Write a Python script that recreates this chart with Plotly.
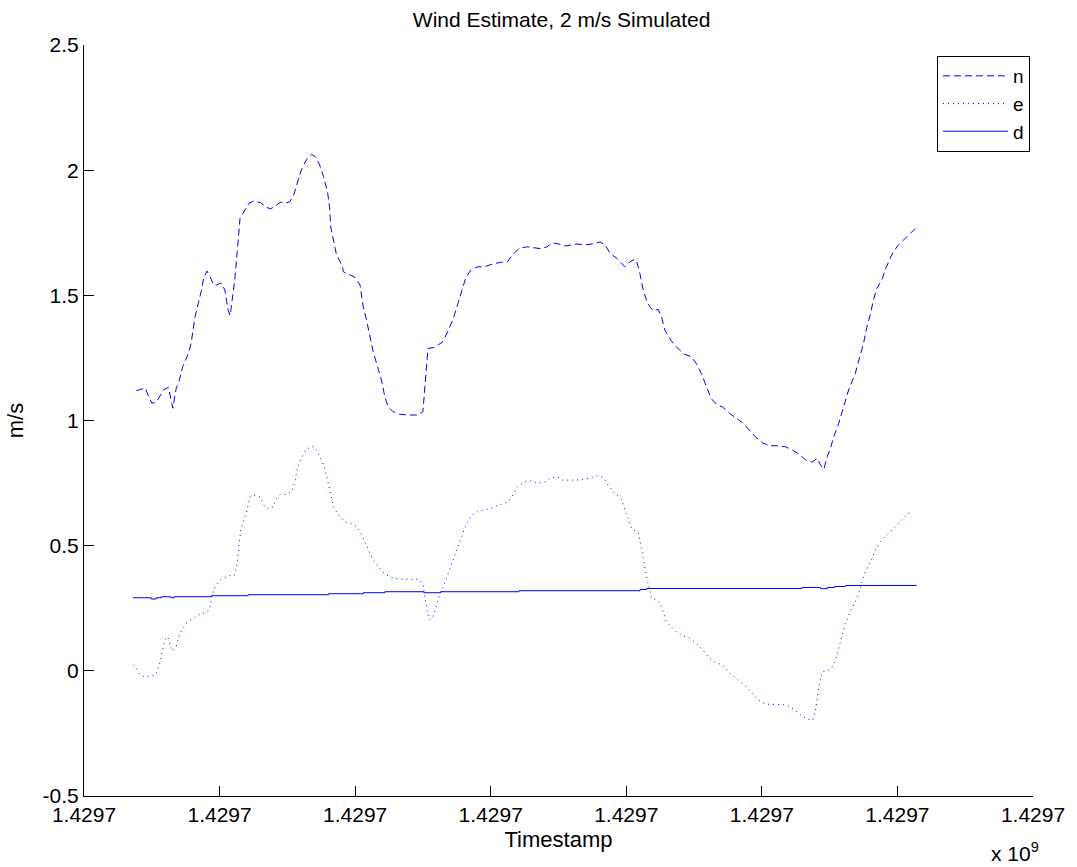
import plotly.graph_objects as go

# x positions are in tick-interval units (ticks at 0..7, all labelled 1.4297 x 10^9)
tick_vals = [0, 1, 2, 3, 4, 5, 6, 7]
tick_text = ["1.4297"] * 8
y_tick_vals = [-0.5, 0, 0.5, 1, 1.5, 2, 2.5]
y_tick_text = ["-0.5", "0", "0.5", "1", "1.5", "2", "2.5"]

n_x = [0.386, 0.452, 0.477, 0.501, 0.533, 0.570, 0.589, 0.623, 0.655, 0.680, 0.704, 0.728, 0.765, 0.790,
       0.801, 0.819, 0.843, 0.867, 0.882, 0.907, 0.931, 0.955, 0.980, 1.010, 1.039, 1.063, 1.078, 1.095,
       1.112, 1.131, 1.151, 1.180, 1.217, 1.254, 1.303, 1.339, 1.376, 1.413, 1.449, 1.486, 1.518, 1.547,
       1.571, 1.603, 1.640, 1.677, 1.706, 1.738, 1.767, 1.796, 1.811, 1.820, 1.840, 1.860, 1.884, 1.906,
       1.913, 1.950, 1.999, 2.036, 2.060, 2.084, 2.109, 2.133, 2.165, 2.194, 2.219, 2.243, 2.280, 2.329,
       2.390, 2.463, 2.500, 2.517, 2.537, 2.586, 2.647, 2.683, 2.720, 2.751, 2.781, 2.817, 2.854, 2.903,
       2.952, 3.013, 3.074, 3.123, 3.160, 3.209, 3.270, 3.331, 3.372, 3.416, 3.453, 3.502, 3.539, 3.587,
       3.636, 3.697, 3.746, 3.807, 3.844, 3.880, 3.930, 3.990, 4.027, 4.064, 4.076, 4.100, 4.125, 4.149,
       4.174, 4.199, 4.235, 4.260, 4.284, 4.320, 4.357, 4.394, 4.430, 4.479, 4.516, 4.553, 4.589, 4.626,
       4.663, 4.712, 4.760, 4.809, 4.858, 4.907, 4.956, 5.005, 5.053, 5.115, 5.176, 5.225, 5.273, 5.323,
       5.372, 5.408, 5.433, 5.457, 5.482, 5.506, 5.530, 5.567, 5.603, 5.640, 5.689, 5.726, 5.750, 5.775,
       5.799, 5.823, 5.848, 5.885, 5.909, 5.946, 5.970, 6.007, 6.056, 6.105, 6.134]
n_v = [1.119, 1.130, 1.095, 1.069, 1.073, 1.108, 1.124, 1.132, 1.049, 1.128, 1.162, 1.215, 1.261, 1.308,
       1.348, 1.415, 1.468, 1.521, 1.568, 1.597, 1.574, 1.541, 1.541, 1.550, 1.521, 1.441, 1.419, 1.481,
       1.561, 1.681, 1.808, 1.834, 1.868, 1.877, 1.870, 1.854, 1.845, 1.858, 1.872, 1.868, 1.874, 1.901,
       1.947, 2.001, 2.041, 2.063, 2.054, 2.021, 1.974, 1.914, 1.854, 1.774, 1.721, 1.668, 1.641, 1.614,
       1.594, 1.585, 1.572, 1.541, 1.454, 1.401, 1.335, 1.275, 1.215, 1.162, 1.095, 1.055, 1.035, 1.025,
       1.022, 1.022, 1.035, 1.162, 1.288, 1.292, 1.315, 1.355, 1.401, 1.454, 1.508, 1.572, 1.601, 1.614,
       1.614, 1.625, 1.632, 1.634, 1.661, 1.688, 1.694, 1.690, 1.686, 1.694, 1.710, 1.705, 1.697, 1.700,
       1.705, 1.702, 1.705, 1.713, 1.701, 1.668, 1.648, 1.614, 1.634, 1.644, 1.637, 1.588, 1.521, 1.481,
       1.454, 1.438, 1.444, 1.415, 1.361, 1.328, 1.301, 1.281, 1.265, 1.255, 1.228, 1.188, 1.142, 1.088,
       1.066, 1.053, 1.029, 1.009, 0.991, 0.962, 0.933, 0.911, 0.899, 0.899, 0.895, 0.882, 0.866, 0.842,
       0.834, 0.849, 0.822, 0.805, 0.855, 0.889, 0.935, 0.989, 1.055, 1.122, 1.188, 1.255, 1.308, 1.375,
       1.421, 1.481, 1.528, 1.561, 1.601, 1.648, 1.674, 1.701, 1.728, 1.754, 1.768]

e_x = [0.361, 0.386, 0.411, 0.447, 0.484, 0.526, 0.545, 0.565, 0.581, 0.599, 0.618, 0.636, 0.655, 0.680,
       0.704, 0.728, 0.753, 0.790, 0.826, 0.863, 0.900, 0.924, 0.941, 0.960, 0.997, 1.034, 1.078, 1.107,
       1.127, 1.144, 1.156, 1.175, 1.200, 1.224, 1.254, 1.298, 1.327, 1.364, 1.395, 1.420, 1.449, 1.498,
       1.534, 1.559, 1.571, 1.596, 1.633, 1.669, 1.699, 1.738, 1.767, 1.791, 1.816, 1.840, 1.877, 1.901,
       1.926, 1.963, 2.011, 2.036, 2.067, 2.097, 2.133, 2.170, 2.219, 2.268, 2.317, 2.390, 2.463, 2.500,
       2.517, 2.531, 2.549, 2.573, 2.598, 2.622, 2.659, 2.691, 2.720, 2.751, 2.786, 2.817, 2.854, 2.903,
       2.952, 3.001, 3.062, 3.123, 3.160, 3.196, 3.246, 3.294, 3.343, 3.404, 3.441, 3.490, 3.526, 3.587,
       3.661, 3.722, 3.783, 3.832, 3.861, 3.905, 3.966, 3.990, 4.015, 4.040, 4.089, 4.106, 4.125, 4.142,
       4.162, 4.186, 4.223, 4.247, 4.272, 4.296, 4.333, 4.370, 4.419, 4.467, 4.516, 4.565, 4.614, 4.663,
       4.712, 4.760, 4.809, 4.858, 4.907, 4.956, 5.005, 5.053, 5.127, 5.188, 5.237, 5.286, 5.335, 5.376,
       5.396, 5.408, 5.425, 5.445, 5.482, 5.513, 5.543, 5.567, 5.592, 5.616, 5.652, 5.689, 5.726, 5.750,
       5.775, 5.812, 5.848, 5.885, 5.933, 5.982, 6.032, 6.080, 6.117]
e_v = [0.023, 0.010, -0.013, -0.024, -0.021, -0.017, 0.003, 0.043, 0.090, 0.126, 0.136, 0.099, 0.079, 0.099,
       0.143, 0.170, 0.190, 0.203, 0.219, 0.229, 0.232, 0.243, 0.289, 0.329, 0.360, 0.372, 0.381, 0.380,
       0.416, 0.496, 0.562, 0.595, 0.635, 0.695, 0.702, 0.695, 0.662, 0.646, 0.655, 0.689, 0.705, 0.705,
       0.719, 0.762, 0.802, 0.842, 0.879, 0.895, 0.895, 0.858, 0.822, 0.775, 0.715, 0.655, 0.622, 0.609,
       0.595, 0.589, 0.576, 0.556, 0.522, 0.485, 0.442, 0.416, 0.387, 0.373, 0.367, 0.365, 0.365, 0.349,
       0.296, 0.236, 0.203, 0.216, 0.256, 0.303, 0.349, 0.396, 0.436, 0.482, 0.536, 0.582, 0.618, 0.638,
       0.641, 0.649, 0.662, 0.675, 0.698, 0.735, 0.755, 0.759, 0.749, 0.755, 0.771, 0.775, 0.762, 0.762,
       0.762, 0.769, 0.779, 0.773, 0.746, 0.715, 0.685, 0.642, 0.602, 0.566, 0.553, 0.509, 0.449, 0.396,
       0.349, 0.289, 0.285, 0.269, 0.236, 0.196, 0.176, 0.156, 0.139, 0.130, 0.110, 0.083, 0.050, 0.032,
       0.023, -0.008, -0.030, -0.050, -0.077, -0.106, -0.128, -0.134, -0.134, -0.137, -0.154, -0.177, -0.194, -0.197,
       -0.157, -0.104, -0.050, -0.004, 0.000, 0.010, 0.043, 0.090, 0.143, 0.190, 0.236, 0.276, 0.329, 0.376,
       0.409, 0.449, 0.496, 0.522, 0.549, 0.576, 0.602, 0.629, 0.635]

d_x = [0.361, 0.495, 0.533, 0.570, 0.640, 0.666, 0.937, 1.210, 1.804, 2.060, 2.219, 2.507, 2.629, 3.209,
       4.101, 4.149, 5.298, 5.433, 5.482, 5.537, 5.616, 6.141]
d_v = [0.292, 0.287, 0.292, 0.296, 0.292, 0.296, 0.300, 0.304, 0.308, 0.312, 0.316, 0.312, 0.316, 0.320,
       0.325, 0.329, 0.333, 0.328, 0.333, 0.337, 0.341, 0.341]

FONT = "Liberation Sans, Arial, Helvetica, sans-serif"
BLUE = "#0000FF"

fig = go.Figure()
fig.add_trace(go.Scatter(x=n_x, y=n_v, mode="lines", name="n",
                         line=dict(color=BLUE, width=1, dash="7px,4px")))
fig.add_trace(go.Scatter(x=e_x, y=e_v, mode="lines", name="e",
                         line=dict(color=BLUE, width=1, dash="1px,4px")))
fig.add_trace(go.Scatter(x=d_x, y=d_v, mode="lines", name="d",
                         line=dict(color=BLUE, width=1, shape="hv")))

fig.update_layout(
    width=1077, height=867,
    margin=dict(l=84, r=38, t=45, b=71),
    paper_bgcolor="white", plot_bgcolor="white",
    font=dict(family=FONT, size=21, color="black"),
    title=dict(text="Wind Estimate, 2 m/s Simulated", x=0.5215, xanchor="center",
               y=0.977, yanchor="middle", font=dict(size=21)),
    showlegend=True,
    legend=dict(x=0.9968, xanchor="right", y=0.9854, yanchor="top",
                bordercolor="black", borderwidth=1, bgcolor="white",
                font=dict(size=19), itemwidth=65, tracegroupgap=0),
)
fig.update_xaxes(range=[0, 7], tickmode="array", tickvals=tick_vals, ticktext=tick_text,
                 showline=True, linecolor="black", linewidth=1, mirror=False,
                 ticks="inside", ticklen=10, tickcolor="black", showgrid=False, zeroline=False,
                 title=dict(text="Timestamp", standoff=6, font=dict(size=22)))
fig.update_yaxes(range=[-0.5, 2.5], tickmode="array", tickvals=y_tick_vals, ticktext=y_tick_text,
                 showline=True, linecolor="black", linewidth=1, mirror=False,
                 ticks="inside", ticklen=10, tickcolor="black", showgrid=False, zeroline=False,
                 title=dict(text="m/s", standoff=12, font=dict(size=22)))
fig.add_annotation(text="x 10<sup>9</sup>", xref="paper", yref="paper", x=0.954, y=-0.074,
                   xanchor="left", yanchor="middle", showarrow=False, font=dict(size=21))

fig.write_html("out.html")
